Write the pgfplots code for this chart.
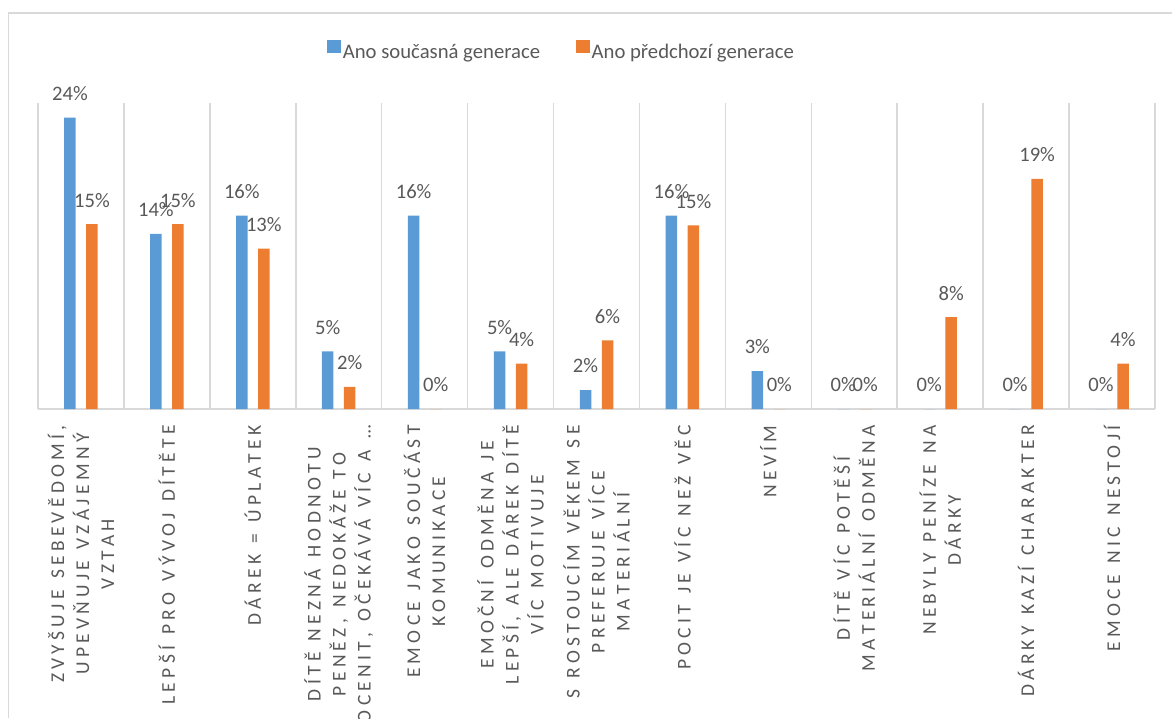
\documentclass[border=0pt]{standalone}
\usepackage{fontspec}
\setmainfont{Carlito}
\newfontfamily\spacedfont[LetterSpace=22, Kerning=Off, WordSpace=1.3]{Carlito}
\usepackage{pgfplots}
\pgfplotsset{compat=1.18}
\definecolor{cblue}{HTML}{5B9BD5}
\definecolor{corange}{HTML}{ED7D31}
\definecolor{txtgray}{HTML}{595959}
\definecolor{gridgray}{HTML}{D9D9D9}
\begin{document}
\begin{tikzpicture}
\useasboundingbox (0,0) rectangle (586pt,359pt);
\clip (0,0) rectangle (586pt,359pt);
\draw[gridgray, line width=0.75pt] (4.15pt,0) -- (4.15pt,352.5pt) -- (590pt,352.5pt);
\begin{axis}[
    at={(19pt,154.5pt)}, anchor=south west,
    width=558.5pt, height=153pt, scale only axis,
    ybar, bar width=5.75pt,
    xmin=-0.5, xmax=12.5, ymin=0, ymax=25,
    clip=false,
    axis x line*=bottom, axis y line=none,
    x axis line style={draw=gridgray, line width=0.75pt},
    xtick={0,...,12}, major tick length=0pt,
    minor xtick={-0.5,0.5,...,12.5}, minor tick length=0pt,
    xminorgrids=true,
    minor grid style={draw=gridgray, line width=0.75pt},
    xticklabels={
      {ZVYŠUJE SEBEVĚDOMÍ,\\UPEVŇUJE VZÁJEMNÝ\\VZTAH},
      {LEPŠÍ PRO VÝVOJ DÍTĚTE},
      {DÁREK = ÚPLATEK},
      {DÍTĚ NEZNÁ HODNOTU\\PENĚZ, NEDOKÁŽE TO\\OCENIT, OČEKÁVÁ VÍC A~…},
      {EMOCE JAKO SOUČÁST\\KOMUNIKACE},
      {EMOČNÍ ODMĚNA JE\\LEPŠÍ, ALE DÁREK DÍTĚ\\VÍC MOTIVUJE},
      {S ROSTOUCÍM VĚKEM SE\\PREFERUJE VÍCE\\MATERIÁLNÍ},
      {POCIT JE VÍC NEŽ VĚC},
      {NEVÍM},
      {DÍTĚ VÍC POTĚŠÍ\\MATERIÁLNÍ ODMĚNA},
      {NEBYLY PENÍZE NA\\DÁRKY},
      {DÁRKY KAZÍ CHARAKTER},
      {EMOCE NIC NESTOJÍ}},
    xticklabel style={yshift=-8pt, rotate=90, anchor=east, inner sep=0pt,
      align=center, text=txtgray,
      font=\spacedfont\fontsize{9.75pt}{12.5pt}\selectfont},
    /pgf/number format/assume math mode=true,
    nodes near coords={\pgfmathprintnumber[fixed,precision=0]{\pgfplotspointmeta}\%},
    every node near coord/.append style={anchor=south, inner sep=0pt,
      yshift=8.3pt, text=txtgray, font=\fontsize{10.3pt}{12pt}\selectfont},
    legend columns=2,
    legend style={at={(0.4687,1.1667)}, anchor=center, draw=none, fill=none,
      font=\fontsize{10.35pt}{12pt}\selectfont, text=txtgray,
      nodes={inner sep=1pt},
      /tikz/every even column/.append style={column sep=17pt}},
    legend image code/.code={\fill[#1] (0pt,-0.2pt) rectangle (6.8pt,6.3pt);},
]
\addplot[fill=cblue, draw=none, bar shift=-5.5pt] coordinates {
  (0,23.8) (1,14.3) (2,15.8) (3,4.7) (4,15.8) (5,4.7) (6,1.55)
  (7,15.8) (8,3.1) (9,0) (10,0) (11,0) (12,0)};
\addplot[fill=corange, draw=none, bar shift=5.5pt] coordinates {
  (0,15.1) (1,15.1) (2,13.1) (3,1.8) (4,0) (5,3.7) (6,5.6)
  (7,15.0) (8,0) (9,0) (10,7.5) (11,18.8) (12,3.7)};
\legend{Ano současná generace, Ano předchozí generace}
\end{axis}
\end{tikzpicture}
\end{document}
